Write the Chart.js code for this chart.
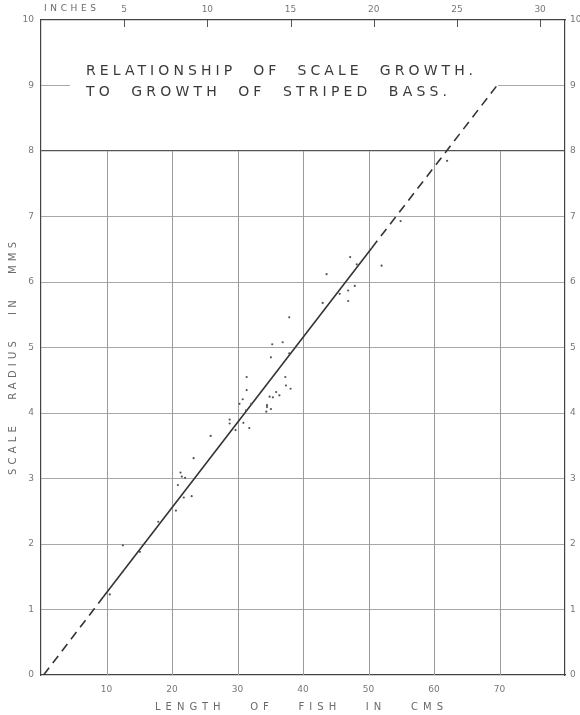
<!DOCTYPE html>
<html>
<head>
<meta charset="utf-8">
<script src="https://cdn.jsdelivr.net/npm/chart.js@4/dist/chart.umd.min.js"></script>
<style>
  body { margin: 0; background: #fff; }
  canvas { display: block; }
</style>
</head>
<body>
<canvas id="grafik" width="580" height="715"></canvas>
<script>
// scales (cm along the bottom, inches along the top, mm up both sides)
const CM_TICKS = [10, 20, 30, 40, 50, 60, 70];
const INCH_TICKS = [5, 10, 15, 20, 25, 30];
const MM_TICKS = [0, 1, 2, 3, 4, 5, 6, 7, 8, 9, 10];

// fitted line: dashed at both ends, solid in the middle
const LINE_CM = [0.4, 9.5, 50.5, 70];
const LINE_MM = [0, 1.19, 6.52, 9.05];

// measured fish (length cm, scale radius mm)
const FISH_CM = [10.5, 12.5, 12.5, 15.1, 17.9, 20.6, 20.9, 21.3, 21.5, 21.8, 22, 23, 23.3, 25.9,
  28.8, 28.8, 29.7, 30.3, 30.8, 30.9, 31.3, 31.4, 31.4, 31.8, 32.1, 34.4, 34.5, 34.5, 34.9,
  35.1, 35.1, 35.3, 35.4, 35.9, 36.4, 36.9, 37.3, 37.4, 37.9, 37.9, 38.1, 43, 43.6, 45.6,
  46.9, 46.9, 47.2, 47.9, 48.2, 52, 54.9, 62];
const FISH_MM = [1.23, 1.98, 1.58, 1.88, 2.34, 2.51, 2.9, 3.09, 3.03, 2.71, 3.01, 2.73, 3.31, 3.65,
  3.9, 3.84, 3.74, 4.14, 4.21, 3.85, 4.04, 4.55, 4.35, 3.77, 4.14, 4.02, 4.12, 4.09, 4.25,
  4.85, 4.06, 5.05, 4.24, 4.32, 4.27, 5.08, 4.55, 4.42, 5.46, 4.91, 4.37, 5.68, 6.12, 5.82,
  5.71, 5.87, 6.38, 5.94, 6.27, 6.25, 6.93, 7.85];

const TITLE_1 = "RELATIONSHIP  OF  SCALE  GROWTH.";
const TITLE_2 = "TO  GROWTH  OF  STRIPED  BASS.";
const X_TITLE = "LENGTH   OF   FISH   IN   CMS";
const Y_TITLE = "SCALE   RADIUS   IN   MMS";

const FONT = "'DejaVu Sans', sans-serif";

// stretch text to a given width with letter spacing
function yay(ctx, text, width) {
  ctx.letterSpacing = "0px";
  const w = ctx.measureText(text).width;
  const n = [...text].length;
  ctx.letterSpacing = Math.max(0, (width - w) / (n - 1)) + "px";
}

const ekler = {
  id: "ekler",
  beforeDatasetsDraw(chart) {
    const { ctx } = chart;
    const xs = chart.scales.x, ys = chart.scales.y, xt = chart.scales.xt;
    ctx.save();
    // vertical grid only from 0 to 8 mm
    ctx.strokeStyle = "#9a9a9a";
    ctx.lineWidth = 1;
    for (const v of CM_TICKS) {
      const x = Math.round(xs.getPixelForValue(v)) + 0.5;
      ctx.beginPath();
      ctx.moveTo(x, ys.getPixelForValue(0));
      ctx.lineTo(x, ys.getPixelForValue(8));
      ctx.stroke();
    }
    // inch ticks hanging from the top border
    ctx.strokeStyle = "#555";
    for (const v of INCH_TICKS) {
      const x = Math.round(xt.getPixelForValue(v)) + 0.5;
      ctx.beginPath();
      ctx.moveTo(x, ys.getPixelForValue(10));
      ctx.lineTo(x, ys.getPixelForValue(10) + 7);
      ctx.stroke();
    }
    // title block breaks the 9 mm line
    ctx.fillStyle = "#fff";
    ctx.fillRect(70, 62, 428, 40);
    ctx.fillStyle = "#3a3a3a";
    ctx.font = "14px " + FONT;
    ctx.textBaseline = "middle";
    ctx.textAlign = "left";
    yay(ctx, TITLE_1, 387);
    ctx.fillText(TITLE_1, 86, 71);
    yay(ctx, TITLE_2, 361);
    ctx.fillText(TITLE_2, 86, 92);
    ctx.restore();
  },
  afterDraw(chart) {
    const { ctx } = chart;
    ctx.save();
    ctx.fillStyle = "#6a6a6a";
    ctx.textBaseline = "middle";
    ctx.textAlign = "left";
    ctx.font = "10px " + FONT;
    yay(ctx, X_TITLE, 288);
    ctx.fillText(X_TITLE, 155, 707);
    ctx.translate(13, 475);
    ctx.rotate(-Math.PI / 2);
    yay(ctx, Y_TITLE, 233);
    ctx.fillText(Y_TITLE, 0, 0);
    ctx.restore();
    ctx.save();
    ctx.fillStyle = "#6a6a6a";
    ctx.font = "9px " + FONT;
    ctx.textBaseline = "middle";
    yay(ctx, "INCHES", 52);
    ctx.fillText("INCHES", 44, 9);
    ctx.restore();
  }
};

const tikYazi = { color: "#777", font: { size: 9, family: FONT } };
const kenar = { color: "#444", width: 1.2 };

new Chart(document.getElementById("grafik"), {
  type: "scatter",
  data: {
    datasets: [
      {
        label: "fish",
        data: FISH_CM.map((x, i) => ({ x, y: FISH_MM[i] })),
        pointRadius: 1.1,
        pointBackgroundColor: "#555",
        pointBorderWidth: 0,
      },
      {
        label: "line",
        type: "line",
        data: LINE_CM.map((x, i) => ({ x, y: LINE_MM[i] })),
        borderColor: "#333",
        borderWidth: 1.6,
        pointRadius: 0,
        fill: false,
        segment: { borderDash: c => (c.p0DataIndex === 1 ? [] : [9, 6]) },
      },
    ],
  },
  options: {
    responsive: false,
    animation: false,
    layout: { padding: 0 },
    plugins: { legend: { display: false }, tooltip: { enabled: false } },
    scales: {
      x: {
        type: "linear", position: "bottom", min: 0, max: 80,
        afterBuildTicks: s => { s.ticks = CM_TICKS.map(v => ({ value: v })); },
        grid: { display: false, drawTicks: false },
        border: kenar,
        ticks: { ...tikYazi, padding: 9, maxRotation: 0 },
        afterFit: s => { s.height = 40; },
      },
      xt: {
        type: "linear", position: "top", min: 0, max: 80 / 2.54,
        afterBuildTicks: s => { s.ticks = INCH_TICKS.map(v => ({ value: v })); },
        grid: { display: false, drawTicks: false },
        border: kenar,
        ticks: { ...tikYazi, padding: 5, maxRotation: 0 },
        afterFit: s => { s.height = 20; },
      },
      y: {
        position: "left", min: 0, max: 10,
        afterBuildTicks: s => { s.ticks = MM_TICKS.map(v => ({ value: v })); },
        grid: {
          drawTicks: false,
          color: c => (c.tick.value === 8 ? "#555" : c.tick.value % 10 === 0 ? "rgba(0,0,0,0)" : "#a8a8a8"),
          lineWidth: c => (c.tick.value === 8 ? 1.2 : 1),
        },
        border: kenar,
        ticks: { ...tikYazi, padding: 7 },
        afterFit: s => { s.width = 41; },
      },
      yr: {
        position: "right", min: 0, max: 10,
        afterBuildTicks: s => { s.ticks = MM_TICKS.map(v => ({ value: v })); },
        grid: { display: false, drawTicks: false },
        border: kenar,
        ticks: { ...tikYazi, padding: 5 },
        afterFit: s => { s.width = 15; },
      },
    },
  },
  plugins: [ekler],
});
</script>
</body>
</html>
